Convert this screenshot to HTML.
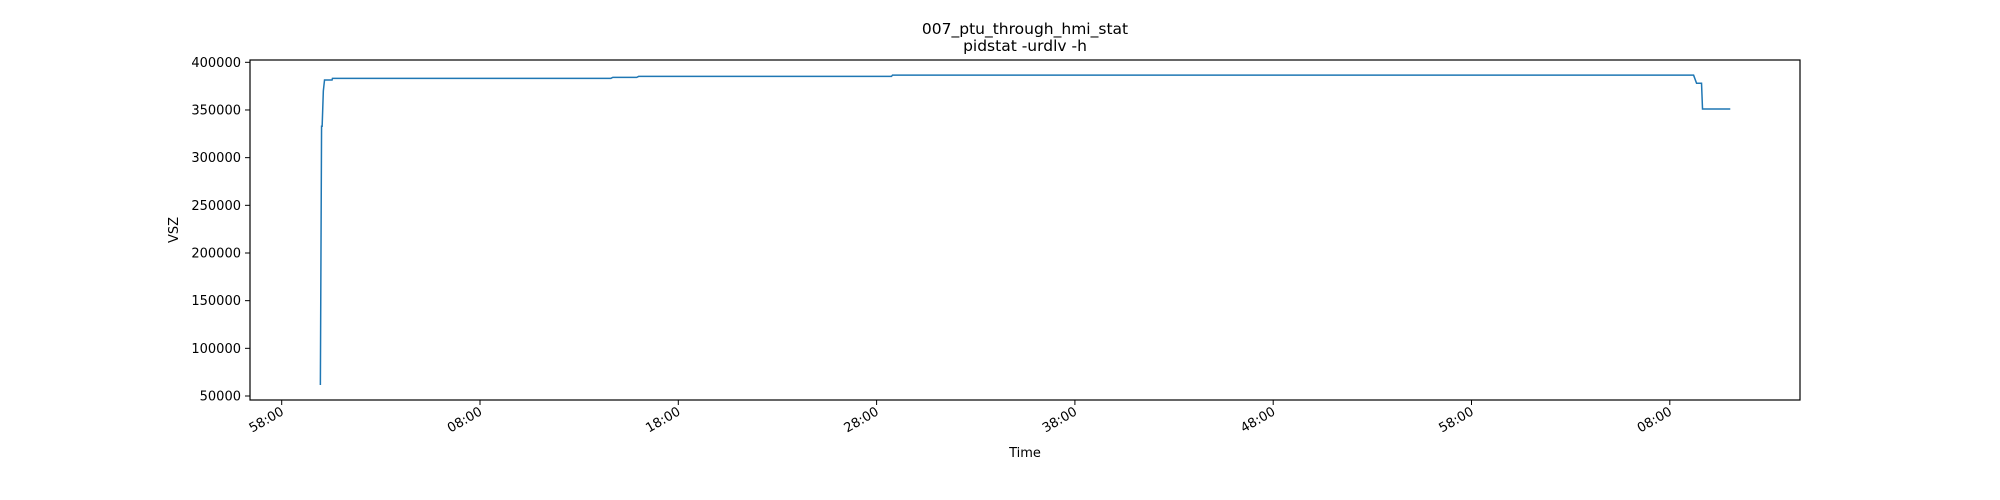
<!DOCTYPE html>
<html><head><meta charset="utf-8"><style>
html,body{margin:0;padding:0;background:#fff;}
svg{display:block;font-family:"DejaVu Sans","Liberation Sans",sans-serif;}
</style></head><body>
<svg id="chart" width="2000" height="500" viewBox="0 0 2000 500">
<rect x="0" y="0" width="2000" height="500" fill="#fff"/>
<text x="1025" y="34" font-size="15.5" text-anchor="middle" fill="#000">007_ptu_through_hmi_stat</text>
<text x="1025" y="51" font-size="15.5" text-anchor="middle" fill="#000">pidstat -urdlv -h</text>
<g id="plot"></g>
<rect x="250" y="60" width="1550" height="340" fill="none" stroke="#000" stroke-width="1.2"/>
<text x="1025" y="457" font-size="13" text-anchor="middle">Time</text>
<text x="0" y="0" font-size="13" text-anchor="middle" transform="translate(178,230) rotate(-90)">VSZ</text>
</svg>
<script>
// minutes since the "58:00" tick
const times = [1.95, 2.01, 2.04, 2.10, 2.16, 2.54, 2.56, 16.6, 16.7, 17.9, 18.0, 30.75, 30.8, 71.2, 71.35, 71.6, 71.65, 73.05];
const vsz   = [61500, 333000, 333000, 370000, 381500, 381500, 383200, 383200, 384200, 384200, 385200, 385200, 386500, 386500, 378000, 378000, 351000, 351000];
const yTicks = [50000, 100000, 150000, 200000, 250000, 300000, 350000, 400000];
const xTickMins = [0, 10, 20, 30, 40, 50, 60, 70];
const xTickLabels = ["58:00", "08:00", "18:00", "28:00", "38:00", "48:00", "58:00", "08:00"];

const ns = "http://www.w3.org/2000/svg";
const g = document.getElementById('plot');
function xs(m){ return 281.7 + m * 19.83; }
function ys(v){ return 396 - (v - 50000) / 50000 * 47.67; }

yTicks.forEach(function(v){
  const y = ys(v);
  const t = document.createElementNS(ns,'line');
  t.setAttribute('x1',245); t.setAttribute('x2',250); t.setAttribute('y1',y); t.setAttribute('y2',y);
  t.setAttribute('stroke','#000');
  
  
  g.appendChild(t);
  const l = document.createElementNS(ns,'text');
  l.setAttribute('x',241); l.setAttribute('y',y+4.5);
  l.setAttribute('font-size','13'); l.setAttribute('text-anchor','end');
  l.textContent = v;
  
  
  g.appendChild(l);
});

xTickMins.forEach(function(m,i){
  const x = xs(m);
  const t = document.createElementNS(ns,'line');
  t.setAttribute('x1',x); t.setAttribute('x2',x); t.setAttribute('y1',400); t.setAttribute('y2',405);
  t.setAttribute('stroke','#000');
  
  
  g.appendChild(t);
  const l = document.createElementNS(ns,'text');
  l.setAttribute('font-size','13'); l.setAttribute('text-anchor','end');
  l.setAttribute('transform','translate('+(x+3)+',414) rotate(-30)');
  l.textContent = xTickLabels[i];
  
  
  g.appendChild(l);
});

let d = '';
times.forEach(function(m,i){ d += (i ? 'L' : 'M') + xs(m).toFixed(2) + ' ' + ys(vsz[i]).toFixed(2); });
const p = document.createElementNS(ns,'path');
p.setAttribute('d', d);
p.setAttribute('fill','none'); p.setAttribute('stroke','#1f77b4'); p.setAttribute('stroke-width','1.5');


g.appendChild(p);
</script>
</body></html>
